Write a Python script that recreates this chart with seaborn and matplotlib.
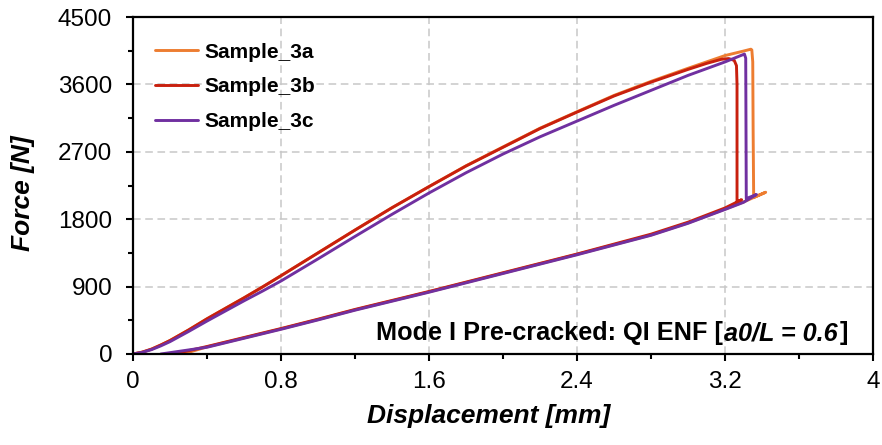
import pandas as pd
import matplotlib
matplotlib.use("Agg")
import matplotlib.pyplot as plt
from matplotlib.offsetbox import TextArea, HPacker, AnchoredOffsetbox
from matplotlib.ticker import MultipleLocator, FuncFormatter
import seaborn as sns

# Sample_3a: loading branch (incl. load drop) and unloading branch
load_x_3a = [0, 0.05, 0.1, 0.15, 0.2, 0.3, 0.4, 0.5, 0.6, 0.7, 0.8, 1.0, 1.2, 1.4, 1.6,
             1.8, 2.0, 2.2, 2.4, 2.6, 2.8, 3.0, 3.2, 3.3, 3.34, 3.345, 3.35, 3.352,
             3.355, 3.42]
load_y_3a = [0, 25, 65, 120, 180, 320, 470, 610, 750, 895, 1045, 1350, 1655, 1953, 2235,
             2513, 2765, 3015, 3235, 3453, 3640, 3815, 3985, 4045, 4070, 4060, 3900, 3000,
             2090, 2160]
unload_x_3a = [3.3, 3.2, 3.0, 2.8, 2.4, 2.0, 1.6, 1.2, 1.0, 0.8, 0.6, 0.4, 0.27]
unload_y_3a = [2030, 1935, 1750, 1590, 1330, 1080, 830, 590, 460, 335, 215, 95, 0]

# Sample_3b
load_x_3b = [0, 0.05, 0.1, 0.15, 0.2, 0.3, 0.4, 0.5, 0.6, 0.7, 0.8, 1.0, 1.2, 1.4, 1.6,
             1.8, 2.0, 2.2, 2.4, 2.6, 2.8, 3.0, 3.1, 3.18, 3.22, 3.25, 3.262, 3.265,
             3.265, 3.29]
load_y_3b = [0, 25, 65, 120, 180, 320, 470, 610, 750, 895, 1045, 1350, 1655, 1953, 2235,
             2510, 2760, 3010, 3230, 3445, 3630, 3800, 3880, 3935, 3945, 3920, 3850, 3600,
             2030, 2060]
unload_x_3b = [3.2, 3.0, 2.8, 2.4, 2.0, 1.6, 1.2, 1.0, 0.8, 0.6, 0.4, 0.22]
unload_y_3b = [1950, 1760, 1600, 1335, 1085, 835, 595, 465, 340, 220, 100, 0]

# Sample_3c
load_x_3c = [0, 0.05, 0.1, 0.15, 0.2, 0.3, 0.4, 0.5, 0.6, 0.7, 0.8, 1.0, 1.2, 1.4, 1.6,
             1.8, 2.0, 2.2, 2.4, 2.6, 2.8, 3.0, 3.2, 3.28, 3.305, 3.312, 3.315, 3.37]
load_y_3c = [0, 22, 58, 108, 165, 300, 440, 575, 710, 840, 975, 1270, 1570, 1865, 2150,
             2420, 2670, 2900, 3110, 3320, 3520, 3720, 3900, 3980, 4005, 3950, 2075, 2130]
unload_x_3c = [3.3, 3.2, 3.0, 2.8, 2.4, 2.0, 1.6, 1.2, 1.0, 0.8, 0.6, 0.4, 0.15]
unload_y_3c = [2025, 1930, 1745, 1585, 1325, 1075, 825, 585, 455, 330, 210, 90, 0]

samples = ["Sample_3a", "Sample_3b", "Sample_3c"]
colors = ["#ED7D31", "#C8200E", "#7030A0"]
x_ticks = [0, 0.8, 1.6, 2.4, 3.2, 4]

curves = {
    "Sample_3a": (load_x_3a + unload_x_3a, load_y_3a + unload_y_3a),
    "Sample_3b": (load_x_3b + unload_x_3b, load_y_3b + unload_y_3b),
    "Sample_3c": (load_x_3c + unload_x_3c, load_y_3c + unload_y_3c),
}
frames = []
for name in samples:
    xs, ys = curves[name]
    frames.append(pd.DataFrame({"Displacement": xs, "Force": ys, "Sample": name}))
df = pd.concat(frames, ignore_index=True)

sns.set_theme(style="ticks")
plt.rcParams["font.family"] = ["Liberation Sans", "DejaVu Sans"]
plt.rcParams["text.color"] = "black"
plt.rcParams["axes.labelcolor"] = "black"

fig = plt.figure(figsize=(8.82, 4.45), dpi=100)
ax = fig.add_axes([133 / 882, 1 - 354 / 445, 740 / 882, 337 / 445])

sns.lineplot(data=df, x="Displacement", y="Force", hue="Sample", hue_order=samples,
             palette=colors, sort=False, estimator=None, linewidth=2.1, ax=ax)

ax.set_xlim(0, 4)
ax.set_ylim(0, 4500)
ax.set_xticks(x_ticks)
ax.xaxis.set_minor_locator(MultipleLocator(0.4))
ax.yaxis.set_major_locator(MultipleLocator(900))
ax.yaxis.set_minor_locator(MultipleLocator(450))
ax.xaxis.set_major_formatter(FuncFormatter(lambda v, p: f"{v:g}"))

ax.grid(True, which="major", color="#C8C8C8", linestyle=(0, (5, 3)), linewidth=1.1)
for s in ax.spines.values():
    s.set_color("black")
    s.set_linewidth(1.6)
    s.set_visible(True)
ax.tick_params(which="major", direction="out", length=5, width=1.5, labelsize=17.5,
               colors="black")
ax.tick_params(axis="x", which="major", pad=7)
ax.tick_params(axis="y", which="major", pad=10)
ax.tick_params(which="minor", direction="out", length=3.5, width=1.5, colors="black")

ax.set_xlabel("Displacement [mm]", fontsize=19, fontweight="bold", fontstyle="italic")
ax.set_ylabel("Force [N]", fontsize=19, fontweight="bold", fontstyle="italic")
ax.xaxis.set_label_coords(0.481, -0.149)
ax.yaxis.set_label_coords(-0.132, 0.478)

leg = ax.legend(loc="upper left", bbox_to_anchor=(0.015, 0.955), frameon=False,
                handlelength=2.1, handletextpad=0.3, labelspacing=0.75,
                borderpad=0, prop={"weight": "bold", "size": 15})

# annotation with mixed bold / bold-italic text
parts = [("Mode I Pre-cracked: QI ENF [", "normal"), ("a0/L = 0.6", "italic"), ("]", "normal")]
boxes = [TextArea(t, textprops=dict(fontsize=18.2, fontweight="bold", fontstyle=st,
                                    color="black")) for t, st in parts]
pack = HPacker(children=boxes, align="baseline", pad=0, sep=1)
anch = AnchoredOffsetbox(loc="lower right", child=pack, pad=0, frameon=False,
                         bbox_to_anchor=(0.966, 0.026), bbox_transform=ax.transAxes,
                         borderpad=0)
ax.add_artist(anch)

fig.savefig("out.png", dpi=100)
